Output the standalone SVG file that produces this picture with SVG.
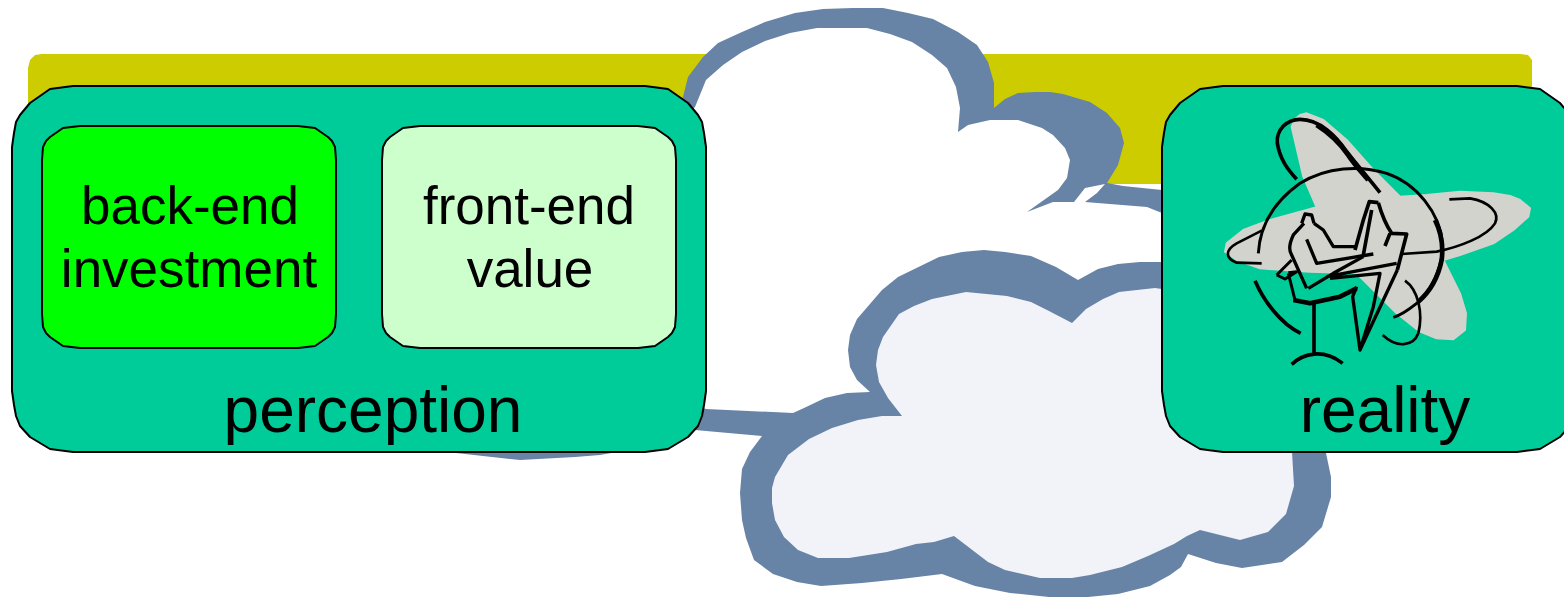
<svg xmlns="http://www.w3.org/2000/svg" width="1564" height="597" viewBox="0 0 1564 597">
<style>
text{font-family:"Liberation Sans",Arial,sans-serif;fill:#000;text-anchor:middle}
.t1{font-size:53px}
.t2{font-size:64px}
.rim{fill:#6783a5}
.box{stroke:#000;stroke-width:2;stroke-linejoin:round}
.pan{fill:#00cc99}
.ink{fill:none;stroke:#000;stroke-linejoin:round;stroke-linecap:butt}
</style>
<rect width="1564" height="597" fill="#fff"/>
<polygon id="band" fill="#cccc00" points="28,68 30,60 35,55 42,54 1520,54 1528,55 1532,60 1532,184 28,184"/>
<g id="cloud-back">
<polygon class="rim" points="683,97 688,77 703,57 718,43 742,32 765,22 795,13 823,9 853,8 883,8 908,13 933,19 958,32 977,45 988,62 994,83 994,108 1005,99 1018,93 1035,92 1050,92 1063,94 1090,102 1107,113 1120,128 1124,143 1118,165 1107,183 1123,186 1162,190 1180,192 1180,300 1000,430 800,445 762,436 695,430 640,448 600,455 575,457 520,460 447,452 400,440 500,300"/>
<polygon fill="#fff" points="695,107 706,80 723,65 742,52 765,41 790,33 817,28 867,28 890,34 912,42 932,55 947,68 956,87 960,108 958,132 968,125 990,120 1018,120 1042,128 1053,135 1065,148 1070,160 1067,178 1058,190 1027,212 1053,202 1074,202 1085,188 1105,184 1097,193 1085,202 1147,207 1162,213 1180,225 1180,300 1000,420 793,413 706,409 680,400 680,120"/>
</g>
<g id="cloud-front">
<polygon class="rim" points="1078,280 1098,269 1118,264 1140,262 1162,262 1200,262 1326,453 1331,477 1331,497 1322,527 1304,545 1282,562 1242,568 1216,563 1188,554 1181,567 1170,575 1150,586 1118,594 1088,597 1049,597 1010,593 975,586 942,574 901,579 862,583 821,586 797,582 773,574 754,560 746,538 742,520 740,493 742,469 750,452 762,436 793,413 804,408 825,398 847,393 870,392 857,380 850,367 848,350 850,335 857,319 882,290 898,277 939,257 962,252 984,250 1005,252 1031,256 1056,267"/>
<polygon fill="#f2f3f8" points="1072,323 1086,309 1103,299 1119,292 1155,288 1162,289 1200,289 1292,452 1294,486 1286,514 1268,532 1240,540 1200,530 1187,536 1174,544 1148,556 1122,567 1090,575 1072,578 1040,578 1005,570 988,562 954,536 934,542 916,544 887,552 849,558 818,558 798,550 784,537 775,520 772,503 772,488 775,477 788,455 809,439 832,428 858,420 882,416 902,416 888,398 879,382 876,365 878,350 883,337 899,314 914,306 932,299 966,292 1007,296 1031,302 1049,311"/>
</g>
<g id="perception">
<polygon class="box pan" points="12,147 14,133 16,122 20,115 30,103 50,89 73,86 645,86 668,89 688,103 698,115 702,122 704,133 706,147 706,391 704,405 702,416 698,426 688,437 668,449 645,452 73,452 50,449 30,437 20,426 16,416 14,405 12,391"/>
<text class="t2" x="373" y="432">perception</text>
</g>
<g id="back-end">
<polygon class="box" fill="#00ff00" points="42,160 43,147 46,141 50,137 63,128 80,126 298,126 315,128 328,137 332,141 335,147 336,160 336,314 335,327 332,333 328,337 315,346 298,348 80,348 63,346 50,337 46,333 43,327 42,314"/>
<text class="t1" x="190" y="224">back-end</text>
<text class="t1" x="189" y="287">investment</text>
</g>
<g id="front-end">
<polygon class="box" fill="#ccffcc" points="382,160 383,147 386,141 390,137 403,128 420,126 638,126 655,128 668,137 672,141 675,147 676,160 676,314 675,327 672,333 668,337 655,346 638,348 420,348 403,346 390,337 386,333 383,327 382,314"/>
<text class="t1" x="529" y="224">front-end</text>
<text class="t1" x="530" y="287">value</text>
</g>
<g id="reality">
<polygon class="box pan" points="1162,147 1164,133 1166,122 1170,115 1180,103 1200,89 1223,86 1517,86 1540,89 1560,103 1570,115 1574,122 1576,133 1578,147 1578,391 1576,405 1574,416 1570,426 1560,437 1540,449 1517,452 1223,452 1200,449 1180,437 1170,426 1166,416 1164,405 1162,391"/>
<g transform="translate(1160 80) scale(.33333)">
<polygon fill="#d3d3cd" stroke="#d3d3cd" stroke-width="6" stroke-linejoin="round" points="395,140 405,118 420,105 440,100 490,120 560,180 640,270 720,350 800,345 900,335 1000,340 1050,348 1080,360 1110,385 1105,410 1060,450 1000,490 900,525 850,540 900,640 918,700 915,750 880,778 830,775 780,755 710,700 650,640 590,580 450,575 300,565 230,540 195,515 200,490 250,450 330,420 470,382 430,290"/>
<g class="ink">
<path stroke-width="11" d="M410 298C385 270 360 240 352 190C348 150 380 118 420 118C480 118 530 170 560 215C600 265 630 300 660 338"/>
<path stroke-width="15" d="M470 135C510 160 540 190 565 225C585 255 600 270 625 300"/>
<path stroke-width="9" d="M295 520C300 430 350 360 420 310C500 260 600 255 680 280C770 310 840 400 848 490C850 560 810 640 770 670C745 690 725 705 700 712"/>
<path stroke-width="14" d="M825 420C845 460 850 500 845 540C835 590 810 635 775 665"/>
<path stroke-width="8" d="M868 358L930 355C990 365 1020 400 1005 430C980 470 900 500 830 515L725 522"/>
<path stroke-width="8" d="M305 452L230 490C195 510 195 535 230 548L305 550"/>
<path stroke-width="11" d="M285 602C310 660 360 730 422 760"/>
<path stroke-width="8" d="M735 602C775 630 790 700 775 760C760 800 710 805 668 765"/>
<path stroke-width="11" d="M462 665V820M395 853C430 820 490 805 548 850"/>
<path stroke-width="10" d="M425 430L435 402L455 405L462 430M432 430L400 465C388 490 385 510 395 525L440 625M462 430L490 450L520 500L585 500M440 478L470 550L640 522"/>
<path stroke-width="11" d="M585 510L610 420L628 365L655 368M635 390L610 525M655 368C670 420 685 445 695 460L740 462L712 570M690 460L675 498"/>
<path stroke-width="10" d="M445 625L520 580L610 530M500 590L710 550M510 595L660 580L640 680L600 810M590 620L578 650L600 810L712 570"/>
<path stroke-width="14" d="M400 660L450 670L540 650L590 625"/>
<path stroke-width="9" d="M385 580L405 660M350 585L395 540M350 585L375 597L410 575L385 578"/>
</g>
</g>
<text class="t2" x="1385" y="432">reality</text>
</g>
</svg>
